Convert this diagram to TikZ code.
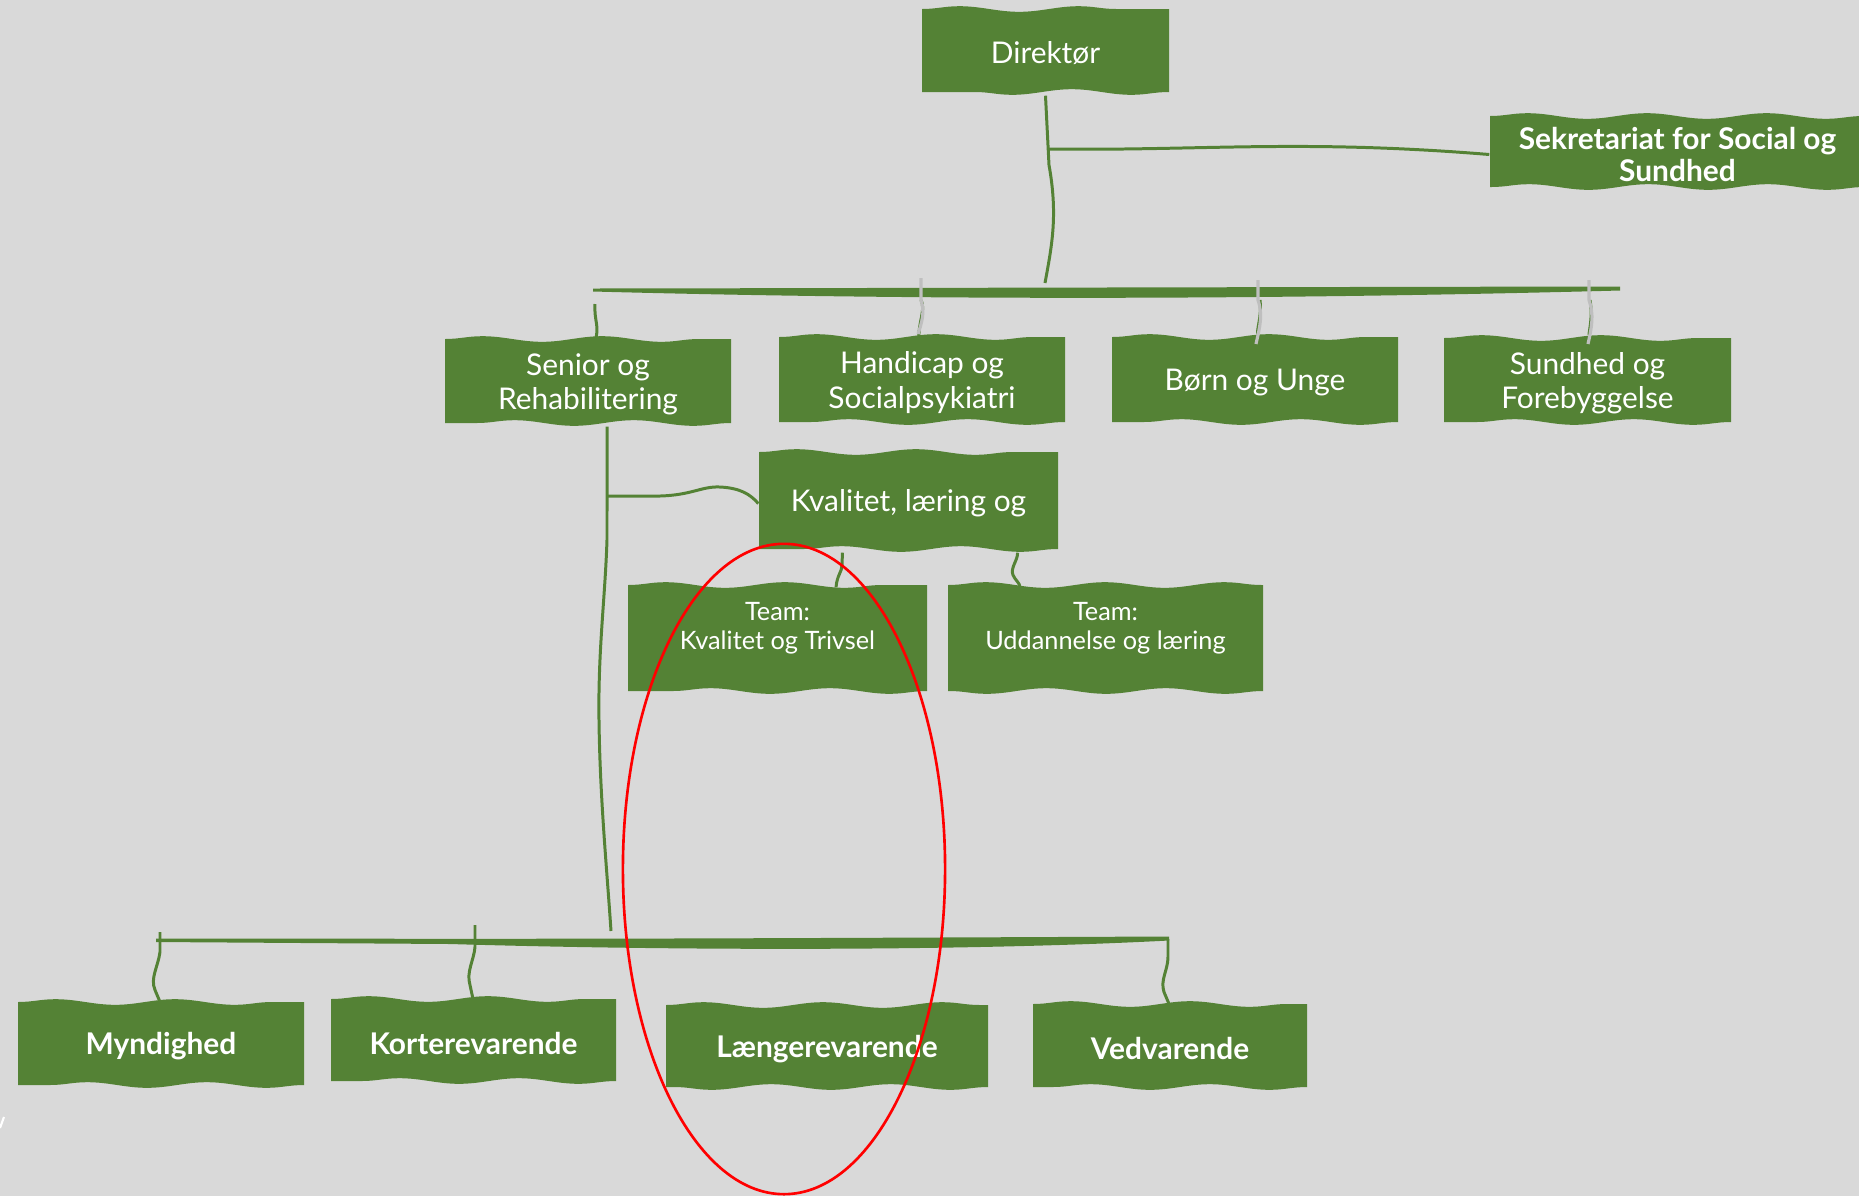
\documentclass[tikz,border=0pt]{standalone}
\usepackage{fontspec}
\setmainfont{Lato}
\usetikzlibrary{decorations.pathmorphing}
\definecolor{gr}{HTML}{548235}
\definecolor{bg}{HTML}{D9D9D9}
\definecolor{hookgray}{HTML}{BFBFBF}
\tikzset{
  boxtxt/.style={text=white, align=center, inner sep=0pt, yshift=-0.03cm, font=\fontsize{8.5}{9.7}\selectfont},
  boldtxt/.style={boxtxt, font=\fontsize{8.5}{9.7}\selectfont\bfseries},
  sektxt/.style={boxtxt, font=\fontsize{8.5}{9.2}\selectfont\bfseries},
  teamtxt/.style={boxtxt, font=\fontsize{7.2}{8.1}\selectfont, text depth=8.5pt},
  conn/.style={draw=gr, line width=0.85pt},
  hookline/.style={draw=hookgray, line width=0.9pt},
  wv/.style={decoration={snake, amplitude=0.8pt, segment length=34pt}},
}
\newcommand\wbox[7]{%
  \fill[gr] (#2,#3) decorate[wv]{-- (#4,#3)} -- (#4,#5) decorate[wv]{-- (#2,#5)} -- cycle;
  \node[#6, minimum width={(#4-#2)*0.01cm}, minimum height={(#5-#3)*0.01cm}] (#1) at ({(#2+#4)/2},{(#3+#5)/2}) {#7};
}
\begin{document}
\begin{tikzpicture}[x=0.01cm,y=-0.01cm]
\useasboundingbox (0,0) rectangle (1859,1196);
\fill[bg] (0,0) rectangle (1859,1196);

% boxes
\wbox{dir}{922}{9}{1169}{92}{boxtxt}{Direktør}
\wbox{sek}{1490}{116}{1865}{187}{sektxt}{Sekretariat for Social og\\Sundhed}
\wbox{sen}{445}{339}{731}{423}{boxtxt}{Senior og\\Rehabilitering}
\wbox{han}{779}{337}{1065}{422}{boxtxt}{Handicap og\\Socialpsykiatri}
\wbox{bor}{1112}{337}{1398}{422}{boxtxt}{Børn og Unge}
\wbox{sun}{1444}{338}{1731}{422}{boxtxt}{Sundhed og\\Forebyggelse}
\wbox{kva}{759}{452}{1058}{549}{boxtxt}{Kvalitet, læring og}
\wbox{tkt}{628}{585}{927}{691}{teamtxt}{Team:\\Kvalitet og Trivsel}
\wbox{tud}{948}{585}{1263}{691}{teamtxt}{Team:\\Uddannelse og læring}
\wbox{myn}{18}{1002}{304}{1085}{boldtxt}{Myndighed}
\wbox{kor}{331}{999}{616}{1081}{boldtxt}{Korterevarende}
\wbox{lan}{666}{1005}{988}{1087}{boldtxt}{Længerevarende}
\wbox{ved}{1033}{1004}{1307}{1087}{boldtxt}{Vedvarende}

% coordinates
\coordinate (dj) at (1049,149);
\coordinate (dbot) at (1045,283);
\coordinate (busL) at (593,290);
\coordinate (busR) at (1620,288);
\coordinate (dsen) at (595,304);
\coordinate (dhan) at (921,278);
\coordinate (dbor) at (1258,280);
\coordinate (dsun) at (1589,280);
\coordinate (sbot) at (611,931);
\coordinate (sj) at (608,496);
\coordinate (bbL) at (156,940);
\coordinate (bbR) at (1169,938);
\coordinate (dmyn) at (160,932);
\coordinate (dkor) at (475,925);
\coordinate (dved) at (1168,939);

% top bus bar (tapered)
\fill[gr] (busL) ++(0,-1.5) .. controls (900,288) and (1300,287) .. ([yshift=0.015cm]busR) -- ([yshift=-0.025cm]busR)
  .. controls (1300,299) and (950,301) .. ([yshift=-0.015cm]busL) -- cycle;
% bottom bus bar (tapered)
\fill[gr] (bbL) ++(0,-1.5) .. controls (600,939) .. ([yshift=0.015cm]bbR) -- ([yshift=-0.025cm]bbR)
  .. controls (950,952) and (650,950) .. (450,944) -- ([yshift=-0.02cm]bbL) -- cycle;

% director connectors
\draw[conn] (dir.south) -- (1049,165) .. controls (1058,215) and (1052,245) .. (dbot);
\draw[conn] (dj) .. controls (1200,151) and (1300,139) .. (sek.west);

% drops to second row
\draw[conn] (dsen) .. controls (594,322) and (600,326) .. (dsen |- sen.north);
\draw[conn] (921,300) .. controls (926,310) and (918,322) .. ([xshift=-0.02cm]dhan |- han.north);
\draw[hookline] (dhan) -- (921,300) .. controls (925,312) and (922,322) .. (918,334);
\draw[conn] (1260,300) .. controls (1262,318) and (1256,330) .. ([yshift=0.05cm]dbor |- bor.north);
\draw[hookline] (dbor) -- (1258,300) .. controls (1263,315) and (1260,326) .. (1256,344);
\draw[conn] (1590,300) .. controls (1593,318) and (1589,330) .. ([yshift=0.05cm]dsun |- sun.north);
\draw[hookline] (dsun) -- (1589,300) .. controls (1594,315) and (1592,326) .. (1588,344);

% senior vertical and branch
\draw[conn] ([xshift=0.19cm]sen.south) -- (607,540) .. controls (605,600) and (598,650) .. (599,720)
  .. controls (600,800) and (607,870) .. (sbot);
\draw[conn] (sj) -- (650,496) .. controls (690,497) and (700,486) .. (720,487) .. controls (740,488) and (750,494) .. (kva.west);

% kvalitet to teams
\draw[conn] ([xshift=-0.66cm]kva.south) -- (842,565) .. controls (842,572) and (837,575) .. ([xshift=0.585cm]tkt.north);
\draw[conn] ([xshift=1.09cm]kva.south) .. controls (1018,560) and (1010,568) .. (1013,575) .. controls (1015,580) and (1020,583) .. ([xshift=-0.855cm]tud.north);

% bottom drops
\draw[conn] (dmyn) -- (160,952) .. controls (158,967) and (150,978) .. (155,990) -- (myn.north);
\draw[conn] (dkor) -- (475,947) .. controls (474,960) and (466,972) .. (470,985) -- (kor.north);
\draw[conn] (dved) -- (1168,957) .. controls (1168,970) and (1160,980) .. (1164,992) -- (ved.north);

% small white mark at left edge
\draw[white, line width=0.6pt] (0,1128) -- (4,1117);

% red ellipse
\draw[red, line width=0.75pt] (784,869) ellipse [x radius=1.61cm, y radius=3.25cm];
\end{tikzpicture}
\end{document}
